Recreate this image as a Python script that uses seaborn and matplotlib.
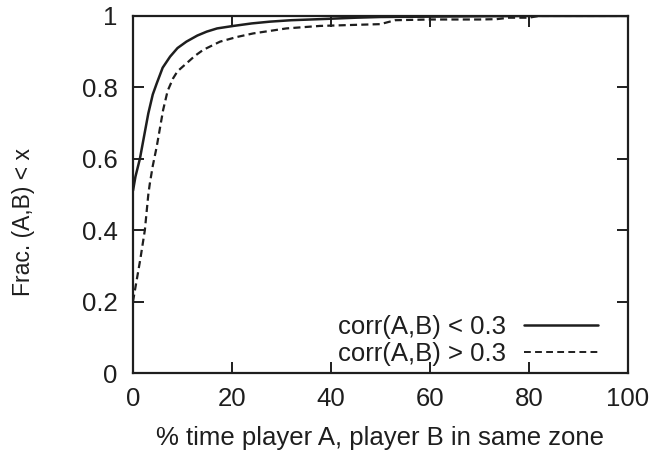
import matplotlib
matplotlib.use("Agg")
import matplotlib.pyplot as plt
from matplotlib.lines import Line2D
import seaborn as sns
import pandas as pd

# Data
low_x = [0, 0.5, 1.4, 2, 3.1, 4, 4.8, 6, 7.5, 9, 10.8, 13, 14.9, 17, 20.3, 24,
         27.7, 32, 37.8, 45, 50, 60, 80, 100]
low_y = [0.51, 0.55, 0.60, 0.645, 0.727, 0.78, 0.811, 0.855, 0.886, 0.91, 0.928,
         0.945, 0.956, 0.965, 0.972, 0.979, 0.984, 0.988, 0.991, 0.995, 0.997,
         0.998, 1.0, 1.0]
high_x = [0, 0.5, 1, 1.5, 2.4, 3.1, 3.4, 4, 4.8, 6.1, 7, 8.1, 9, 10.8, 12.5, 14.2,
          17.6, 21, 24.3, 31, 37.8, 45, 50, 53, 60, 70, 73.5, 76, 80, 82, 100]
high_y = [0.20, 0.24, 0.28, 0.32, 0.40, 0.50, 0.53, 0.58, 0.634, 0.737, 0.79,
          0.825, 0.845, 0.867, 0.888, 0.905, 0.928, 0.941, 0.951, 0.965, 0.972,
          0.975, 0.977, 0.988, 0.99, 0.99, 0.991, 0.995, 0.995, 1.0, 1.0]
labels = ["corr(A,B) < 0.3", "corr(A,B) > 0.3"]
x_ticks = [0, 20, 40, 60, 80, 100]
y_ticks = [0, 0.2, 0.4, 0.6, 0.8, 1]
y_tick_labels = ["0", "0.2", "0.4", "0.6", "0.8", "1"]

sns.set_theme(style="ticks")
plt.rcParams["font.family"] = ["Liberation Sans", "DejaVu Sans"]

df = pd.concat([
    pd.DataFrame({"x": low_x, "y": low_y, "series": labels[0]}),
    pd.DataFrame({"x": high_x, "y": high_y, "series": labels[1]}),
])

ink = "#1e1e1e"
fig = plt.figure(figsize=(6.56, 4.55), dpi=100)
ax = fig.add_axes([0.2027, 0.1802, 0.957 - 0.2027, 0.965 - 0.1802])

sns.lineplot(data=df, x="x", y="y", hue="series", style="series",
             palette=[ink, ink], dashes=[(1, 0), (3.2, 1.9)],
             estimator=None, sort=False, linewidth=1.8, ax=ax, legend=False)
if len(ax.lines) >= 2:
    ax.lines[1].set_linewidth(1.6)

ax.set_xlim(0, 100)
ax.set_ylim(0, 1)
ax.set_xticks(x_ticks)
ax.set_xticklabels([str(t) for t in x_ticks])
ax.set_yticks(y_ticks)
ax.set_yticklabels(y_tick_labels)
ax.tick_params(direction="in", length=8, width=1.4, top=True, right=True,
               labelsize=18.5, color=ink, labelcolor=ink)
ax.tick_params(axis="y", pad=11)
ax.tick_params(axis="x", pad=10)
# the scanned 0.2 ticks are reddish in the reference
for tk in ax.yaxis.get_major_ticks():
    if abs(tk.get_loc() - 0.2) < 1e-9:
        tk.tick1line.set_color("#b0305a")
        tk.tick2line.set_color("#b0305a")
for s in ax.spines.values():
    s.set_linewidth(1.6)
    s.set_color(ink)
ax.set_xlabel("% time player A, player B in same zone", fontsize=18.5,
              color=ink, labelpad=11)
ax.set_ylabel("Frac. (A,B) < x", fontsize=16.5, color=ink)
ax.yaxis.set_label_coords(-0.198, 0.423)

handles = [Line2D([], [], color=ink, lw=1.8, ls="-"),
           Line2D([], [], color=ink, lw=1.4, ls=(0, (3.5, 2.2)))]
leg = ax.legend(handles, labels, loc="lower right", frameon=False,
                fontsize=18.5, markerfirst=False, handlelength=2.9,
                handletextpad=0.7, labelspacing=0.12,
                bbox_to_anchor=(0.987, -0.045))
for t in leg.get_texts():
    t.set_color(ink)

fig.savefig("out.png", dpi=100)
